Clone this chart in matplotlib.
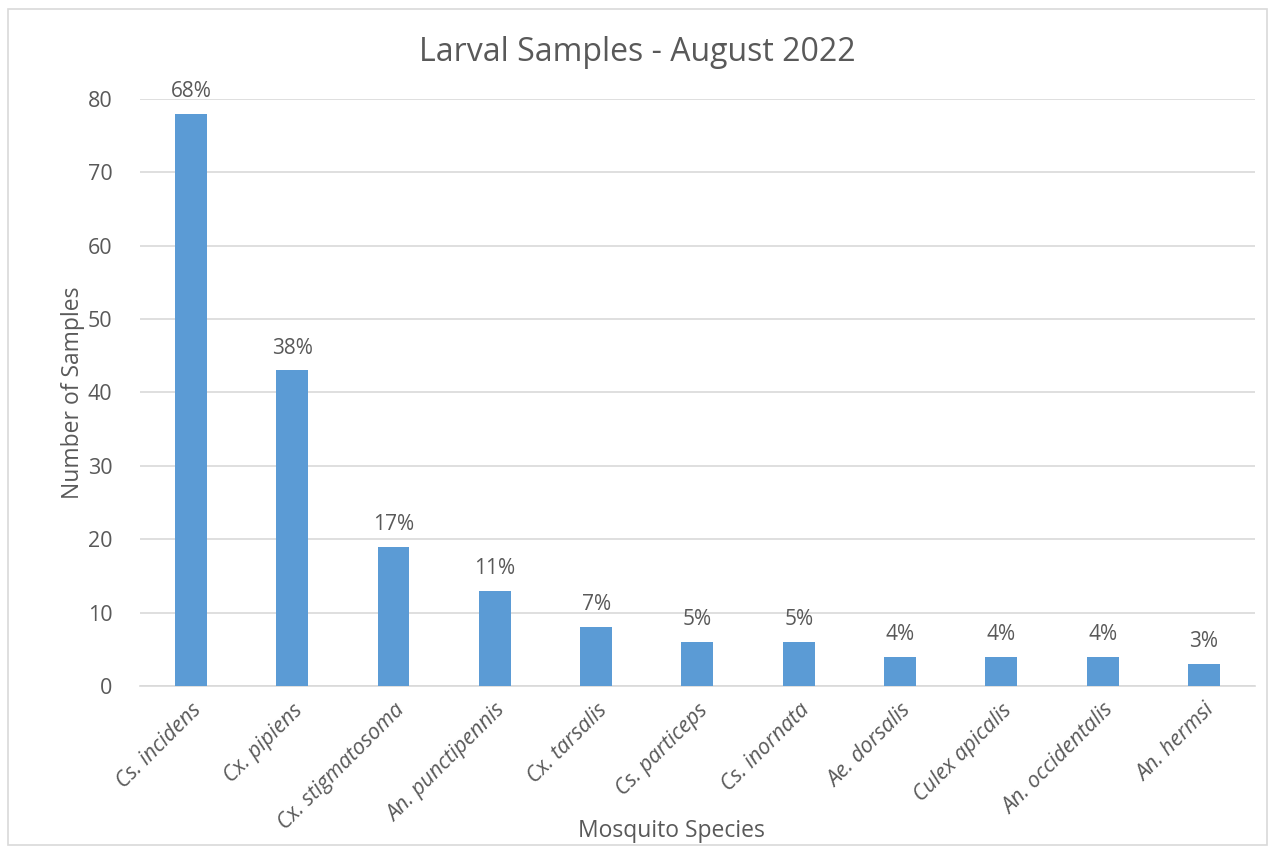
#!/usr/bin/env python

import matplotlib
matplotlib.use('Agg')
import matplotlib.pyplot as plt
from matplotlib.patches import Rectangle

species = ['Cs. incidens', 'Cx. pipiens', 'Cx. stigmatosoma', 'An. punctipennis',
           'Cx. tarsalis', 'Cs. particeps', 'Cs. inornata', 'Ae. dorsalis',
           'Culex apicalis', 'An. occidentalis', 'An. hermsi']
counts = [78, 43, 19, 13, 8, 6, 6, 4, 4, 4, 3]
pct_labels = ['68%', '38%', '17%', '11%', '7%', '5%', '5%', '4%', '4%', '4%', '3%']
yticks = [0, 10, 20, 30, 40, 50, 60, 70, 80]

text_col = '#595959'
bar_col = '#5b9bd5'
grid_col = '#d9d9d9'

plt.rcParams['font.family'] = ['Open Sans', 'DejaVu Sans']

fig = plt.figure(figsize=(12.75, 8.5), dpi=100)
ax = fig.add_axes([0.110, 0.193, 0.874, 0.6905])

xs = range(len(species))
ax.bar(xs, counts, width=0.315, color=bar_col, zorder=3)
# percentage of samples above each bar
for x, c, lab in zip(xs, counts, pct_labels):
    ax.annotate(lab, (x, c), xytext=(0, 8.5), textcoords='offset points',
                ha='center', va='bottom', fontsize=15, color=text_col)

ax.set_xlim(-0.5, len(species) - 0.5)
ax.set_ylim(0, 80)
ax.set_yticks(yticks)
ax.yaxis.grid(True, color=grid_col, linewidth=1.2, zorder=0)
ax.set_axisbelow(True)
for s in ['top', 'right', 'left']:
    ax.spines[s].set_visible(False)
ax.spines['bottom'].set_color(grid_col)
ax.spines['bottom'].set_linewidth(1.2)
ax.tick_params(axis='both', length=0, labelcolor=text_col, labelsize=15.5)
ax.tick_params(axis='y', pad=20)
ax.set_xticks(list(xs))
ax.set_xticklabels(species, rotation=45, ha='right', rotation_mode='anchor',
                   style='italic')
ax.tick_params(axis='x', pad=10)

ax.set_ylabel('Number of Samples', fontsize=16.5, color=text_col)
ax.yaxis.set_label_coords(-0.050, 0.5)
ax.set_xlabel('Mosquito Species', fontsize=16.5, color=text_col)
ax.xaxis.set_label_coords(0.477, -0.226)
fig.suptitle('Larval Samples - August 2022', fontsize=23, color=text_col, y=0.958)

fig.patches.append(Rectangle((0.006, 0.006), 0.988, 0.984, transform=fig.transFigure,
                             fill=False, edgecolor=grid_col, linewidth=1.2))

fig.savefig('out.png', dpi=100)
